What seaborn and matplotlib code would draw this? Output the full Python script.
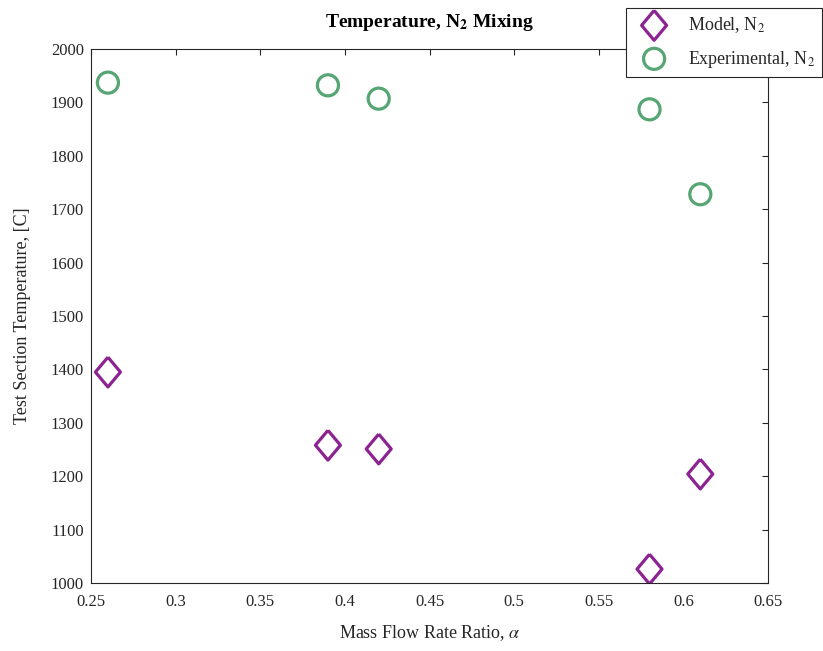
import matplotlib
matplotlib.use("Agg")
import matplotlib.pyplot as plt
import seaborn as sns

# mass flow rate ratio values and temperatures
alpha = [0.26, 0.39, 0.42, 0.58, 0.61]
model_temp = [1395, 1258, 1251, 1026, 1204]
exp_temp = [1937, 1932, 1907, 1887, 1728]

x_ticks = [0.25, 0.3, 0.35, 0.4, 0.45, 0.5, 0.55, 0.6, 0.65]
y_ticks = [1000, 1100, 1200, 1300, 1400, 1500, 1600, 1700, 1800, 1900, 2000]

sns.set_style("white")
plt.rcParams['font.family'] = ['Liberation Serif', 'DejaVu Serif']
plt.rcParams['mathtext.fontset'] = 'stix'

text_col = '#262626'
purple = '#8B2391'
green = '#55A673'

# slightly tall diamond, like the MATLAB one
diamond = [(0, 1), (0.84, 0), (0, -1), (-0.84, 0), (0, 1)]

fig = plt.figure(figsize=(8.23, 6.51), dpi=100)
ax = fig.add_axes([91 / 823, 1 - 583 / 651, 677 / 823, 534 / 651])

sns.scatterplot(x=alpha, y=model_temp, ax=ax, marker=diamond, s=460,
                facecolors='none', edgecolor=purple, linewidth=2.3,
                label=r'Model, N$_2$')
sns.scatterplot(x=alpha, y=exp_temp, ax=ax, marker='o', s=230,
                facecolors='none', edgecolor=green, linewidth=2.3,
                label=r'Experimental, N$_2$')

ax.set_xlim(0.25, 0.65)
ax.set_ylim(1000, 2000)
ax.set_xticks(x_ticks)
ax.set_xticklabels([f'{v:g}' for v in x_ticks])
ax.set_yticks(y_ticks)
ax.set_yticklabels([str(v) for v in y_ticks])

ax.tick_params(direction='in', length=4, width=0.8, colors=text_col,
               labelsize=12, top=True, right=True, labelcolor=text_col)
ax.tick_params(axis='x', pad=8)
ax.tick_params(axis='y', pad=5)
for sp in ax.spines.values():
    sp.set_color(text_col)
    sp.set_linewidth(0.8)

ax.set_xlabel(r'Mass Flow Rate Ratio, $\alpha$', fontsize=13, color=text_col)
ax.set_ylabel('Test Section Temperature, [C]', fontsize=13, color=text_col)
ax.xaxis.set_label_coords(0.5, -0.075)
ax.yaxis.set_label_coords(-0.088, 0.5)
ax.set_title(r'Temperature, N$_\mathbf{2}$ Mixing', fontsize=14,
             fontweight='bold', color='black', pad=16)

leg = ax.legend(loc='upper right', bbox_to_anchor=(822 / 823, 1 - 8 / 651),
                bbox_transform=fig.transFigure, borderaxespad=0,
                fancybox=False, framealpha=1, edgecolor=text_col,
                fontsize=13, handletextpad=0.7, borderpad=0.4,
                labelspacing=0.75, handlelength=2.3)
leg.get_frame().set_linewidth(0.8)

fig.savefig('out.png', dpi=100)
